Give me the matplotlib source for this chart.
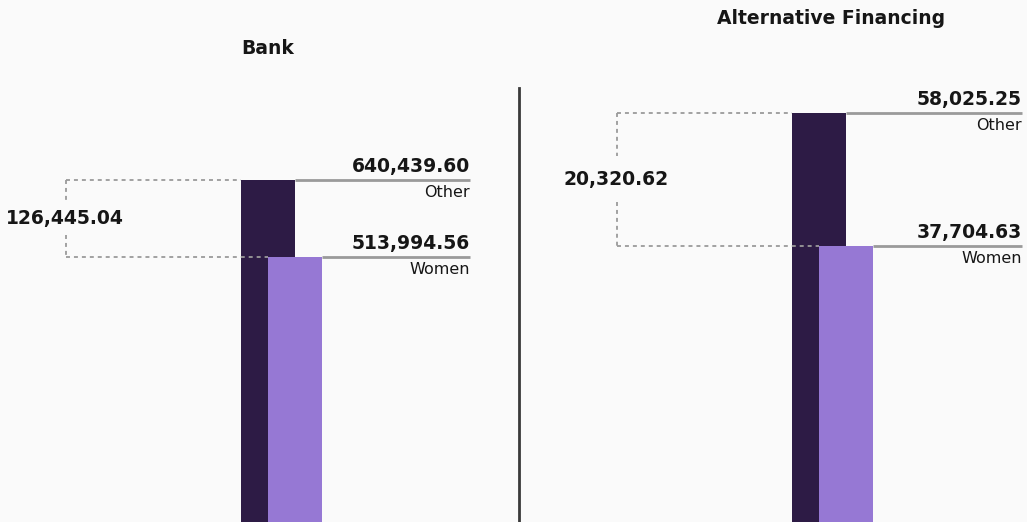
import matplotlib
matplotlib.use("Agg")
import matplotlib.pyplot as plt

# Loan volumes by lender type
panels = ["Bank", "Alternative Financing"]
categories = ["Other", "Women"]
other_values = [640439.60, 58025.25]
women_values = [513994.56, 37704.63]

W, H = 1027, 522
BG = "#fafafa"
DARK = "#2d1b45"
LIGHT = "#9678d4"
GUIDE = "#9a9a9a"
TXT = "#161616"
FONT = "DejaVu Sans"

# per-panel layout (pixels): panel x-range, bar left edge, label right edge,
# bracket x, pixel rows (from top) for the two bar tops, bracket label gap,
# title position
layout = [
    dict(xr=(0, 519), bar_left=241, label_right=470, bracket_x=66,
         rows=(180, 257), gap=16, title_xy=(268, 48)),
    dict(xr=(519, W), bar_left=792, label_right=1022, bracket_x=617,
         rows=(113, 246), gap=23, title_xy=(831, 18)),
]
BAR_W = 54
OFFSET = 27

fig = plt.figure(figsize=(W / 100, H / 100), dpi=100, facecolor=BG)

for name, o_val, w_val, L in zip(panels, other_values, women_values, layout):
    x0, x1 = L["xr"]
    ax = fig.add_axes([x0 / W, 0, (x1 - x0) / W, 1])
    ax.set_facecolor(BG)
    ax.set_xlim(x0, x1)
    # vertical scale: place the two bar tops on their rows
    yo, yw = H - L["rows"][0], H - L["rows"][1]
    upp = (o_val - w_val) / (yo - yw)
    lo = w_val - yw * upp
    ax.set_ylim(lo, lo + H * upp)
    ax.axis("off")

    base = lo - 20 * upp
    bl = L["bar_left"]
    ax.bar(bl, o_val - base, bottom=base, width=BAR_W, align="edge",
           color=DARK, zorder=2)
    ax.bar(bl + OFFSET, w_val - base, bottom=base, width=BAR_W, align="edge",
           color=LIGHT, zorder=3)

    # leader lines and labels
    lr = L["label_right"]
    for val, right_edge, cat in ((o_val, bl + BAR_W, categories[0]),
                                 (w_val, bl + OFFSET + BAR_W, categories[1])):
        ax.plot([right_edge, lr], [val, val], color=GUIDE, lw=2,
                solid_capstyle="butt", zorder=1)
        ax.text(lr, val + 4 * upp, f"{val:,.2f}", ha="right", va="bottom",
                fontsize=13.5, fontweight="bold", color=TXT, family=FONT)
        ax.text(lr, val - 5 * upp, cat, ha="right", va="top",
                fontsize=11.5, color=TXT, family=FONT)

    # difference bracket
    bx = L["bracket_x"]
    diff = o_val - w_val
    dash = dict(color=GUIDE, lw=1.3, linestyle=(0, (2.2, 2.2)), zorder=4)
    ax.plot([bx, bl], [o_val, o_val], **dash)
    ax.plot([bx, bl + OFFSET], [w_val, w_val], **dash)
    mid = (o_val + w_val) / 2
    gap = L["gap"] * upp
    ax.plot([bx, bx], [o_val, mid + gap], **dash)
    ax.plot([bx, bx], [mid - gap, w_val], **dash)
    ax.text(bx - 1, mid, f"{diff:,.2f}", ha="center", va="center",
            fontsize=13.5, fontweight="bold", color=TXT, family=FONT, zorder=5)

    # panel title
    tx, ty = L["title_xy"]
    fig.text(tx / W, 1 - ty / H, name, ha="center", va="center",
             fontsize=13.5, fontweight="bold", color=TXT, family=FONT)

# divider between panels
fig.add_artist(plt.Line2D([519 / W, 519 / W], [0, 1 - 88 / H],
                          transform=fig.transFigure, color="#3a3a3a", lw=2))

fig.savefig("out.png", dpi=100, facecolor=BG)
